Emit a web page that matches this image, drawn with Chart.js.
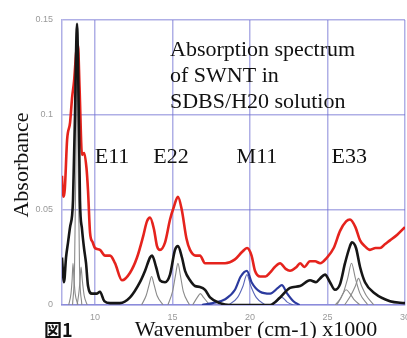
<!DOCTYPE html>
<html>
<head>
<meta charset="utf-8">
<script src="https://cdn.jsdelivr.net/npm/chart.js@4/dist/chart.umd.min.js"></script>
<style>
  html, body { margin: 0; padding: 0; background: #fff; }
  #wrap { width: 407px; height: 338px; }
</style>
</head>
<body>
<div id="wrap"><canvas id="spectrum" width="407" height="338"></canvas></div>
<script>
// measured spectrum (offset), red
const redSpectrum = [
  [7.87, 0.068], [7.94, 0.057], [8.05, 0.061], [8.2, 0.087], [8.39, 0.096], [8.52, 0.109],
  [8.65, 0.118], [8.8, 0.134], [8.9, 0.137], [9.0, 0.115], [9.16, 0.079], [9.3, 0.080],
  [9.45, 0.072], [9.55, 0.060], [9.68, 0.038], [9.85, 0.033], [10.0, 0.030], [10.32, 0.029],
  [10.65, 0.026], [10.97, 0.026], [11.29, 0.022], [11.74, 0.013], [12.26, 0.017], [12.71, 0.025],
  [13.1, 0.036], [13.35, 0.044], [13.55, 0.046], [13.8, 0.040], [14.0, 0.031], [14.19, 0.029],
  [14.52, 0.033], [14.84, 0.045], [15.1, 0.052], [15.35, 0.057], [15.6, 0.050], [15.9, 0.035],
  [16.13, 0.029], [16.5, 0.026], [16.77, 0.026], [17.1, 0.022], [17.42, 0.022], [18.0, 0.022],
  [18.39, 0.022], [19.03, 0.024], [19.5, 0.028], [19.81, 0.030], [20.1, 0.026], [20.32, 0.018],
  [20.65, 0.015], [21.0, 0.015], [21.29, 0.017], [21.6, 0.020], [21.94, 0.022], [22.3, 0.019],
  [22.58, 0.018], [23.0, 0.020], [23.23, 0.022], [23.5, 0.020], [23.87, 0.023], [24.2, 0.023],
  [24.52, 0.022], [24.97, 0.025], [25.4, 0.030], [25.81, 0.039], [26.2, 0.044], [26.45, 0.045],
  [26.8, 0.041], [27.1, 0.034], [27.4, 0.031], [27.74, 0.029], [28.1, 0.030], [28.39, 0.030],
  [28.7, 0.032], [29.03, 0.034], [29.5, 0.037], [30.0, 0.041]
]

// fitted sum, black
const fitSum = [
  [7.87, 0.025], [8.0, 0.012], [8.13, 0.025], [8.26, 0.033], [8.39, 0.041], [8.52, 0.047],
  [8.58, 0.055], [8.71, 0.100], [8.77, 0.130], [8.84, 0.148], [8.9, 0.130], [8.97, 0.090],
  [9.03, 0.055], [9.16, 0.040], [9.29, 0.030], [9.42, 0.022], [9.55, 0.010], [9.8, 0.006],
  [10.1, 0.006], [10.32, 0.007], [10.6, 0.002], [10.97, 0.001], [11.6, 0.001], [12.26, 0.004],
  [12.9, 0.012], [13.23, 0.018], [13.55, 0.025], [13.68, 0.026], [13.94, 0.020], [14.19, 0.013],
  [14.52, 0.012], [14.84, 0.016], [15.16, 0.029], [15.35, 0.031], [15.61, 0.025], [15.81, 0.018],
  [16.13, 0.013], [16.45, 0.010], [16.77, 0.0095], [17.1, 0.008], [17.42, 0.004], [18.06, 0.001],
  [18.71, 0.0], [21.29, 0.0], [21.94, 0.004], [22.58, 0.009], [23.23, 0.010], [23.87, 0.013],
  [24.26, 0.012], [24.52, 0.014], [24.84, 0.016], [25.16, 0.012], [25.48, 0.008], [25.81, 0.011],
  [26.13, 0.022], [26.45, 0.031], [26.58, 0.033], [26.84, 0.030], [27.1, 0.020], [27.42, 0.012],
  [28.06, 0.006], [29.03, 0.002], [30.0, 0.001]
]

// single peaks, gray
const peakE11a = [[8.3, 0], [8.45, 0.006], [8.52, 0.013], [8.58, 0.022], [8.65, 0.013], [8.72, 0.006], [8.9, 0]]
const peakE11b = [[8.55, 0], [8.68, 0.02], [8.76, 0.07], [8.84, 0.14], [8.92, 0.07], [9.0, 0.02], [9.15, 0]]
const peakE11c = [[8.85, 0], [8.98, 0.008], [9.05, 0.015], [9.1, 0.02], [9.18, 0.013], [9.3, 0.005], [9.5, 0]]
const peakE22a = [[13.0, 0], [13.3, 0.005], [13.5, 0.011], [13.65, 0.015], [13.8, 0.011], [14.0, 0.005], [14.4, 0]]
const peakE22b = [[14.7, 0], [15.0, 0.007], [15.2, 0.016], [15.35, 0.022], [15.5, 0.016], [15.7, 0.007], [16.1, 0]]
const peakE22c = [[16.3, 0], [16.6, 0.004], [16.8, 0.006], [17.0, 0.004], [17.4, 0]]
const peakE33a = [[25.6, 0], [26.0, 0.006], [26.3, 0.014], [26.55, 0.022], [26.8, 0.014], [27.1, 0.006], [27.6, 0]]
const peakE33b = [[26.1, 0], [26.5, 0.005], [26.8, 0.010], [27.0, 0.014], [27.2, 0.010], [27.5, 0.005], [28.0, 0]]
const peakE33c = [[25.5, 0], [25.8, 0.003], [26.0, 0.006], [26.2, 0.008], [26.45, 0.006], [26.7, 0.003], [27.1, 0]]

// metallic part, blue
const metalSum = [
  [16.9, 0], [17.6, 0.001], [18.4, 0.003], [19.03, 0.008], [19.4, 0.015], [19.8, 0.018],
  [20.1, 0.012], [20.65, 0.007], [21.3, 0.006], [21.8, 0.009], [22.05, 0.0105], [22.4, 0.006],
  [22.8, 0.002], [23.2, 0]
]
const peakM11a = [[18.6, 0], [19.2, 0.004], [19.55, 0.010], [19.8, 0.016], [20.05, 0.010], [20.4, 0.004], [21.0, 0]]
const peakM11b = [[21.3, 0], [21.7, 0.0015], [22.05, 0.004], [22.4, 0.0015], [22.8, 0]]

const xTickValues = [10, 15, 20, 25, 30]
const yTickValues = [0, 0.05, 0.1, 0.15]
const bandLabels = [['E11', 11.1], ['E22', 14.9], ['M11', 20.45], ['E33', 26.4]]

const toPts = arr => arr.map(p => ({ x: p[0], y: p[1] }))

const line = (pts, color, width, order) => ({
  data: toPts(pts),
  borderColor: color,
  borderWidth: width,
  pointRadius: 0,
  fill: false,
  cubicInterpolationMode: 'monotone',
  order: order
})

const grayPeaks = [peakE11a, peakE11b, peakE11c, peakE22a, peakE22b, peakE22c, peakE33a, peakE33b, peakE33c]

const datasets = [
  line(fitSum, '#161616', 2.6, 0),
  line(redSpectrum, '#e5231d', 2.6, 1),
  line(metalSum, '#2b3a9e', 2.2, 2),
  line(peakM11a, '#5a66b8', 1.1, 3),
  line(peakM11b, '#5a66b8', 1.1, 3),
  ...grayPeaks.map(p => line(p, '#8a8a8a', 1.1, 4))
]

const serif = '"Liberation Serif", "DejaVu Serif", serif'
const gridBlue = 'rgba(110,110,210,0.55)'

const textPlugin = {
  id: 'texts',
  afterDraw(chart) {
    const ctx = chart.ctx
    const xs = chart.scales.x
    const ys = chart.scales.y
    ctx.save()
    ctx.fillStyle = '#111'
    ctx.font = '22px ' + serif
    ctx.textBaseline = 'alphabetic'

    ctx.textAlign = 'left'
    ctx.fillText('Absorption spectrum', 170, 56)
    ctx.fillText('of SWNT in', 170, 82)
    ctx.fillText('SDBS/H20 solution', 170, 108)

    ctx.textAlign = 'center'
    bandLabels.forEach(b => {
      ctx.fillText(b[0], xs.getPixelForValue(b[1]), ys.getPixelForValue(0.0745))
    })

    ctx.fillText('Wavenumber (cm-1) x1000', 256, 336)

    ctx.save()
    ctx.translate(28, 165)
    ctx.rotate(-Math.PI / 2)
    ctx.fillText('Absorbance', 0, 0)
    ctx.restore()

    ctx.textAlign = 'left'
    ctx.font = 'bold 18px "Noto Sans CJK JP", sans-serif'
    ctx.fillText('図1', 44, 337)
    ctx.restore()
  }
}

const config = {
  type: 'line',
  data: { datasets: datasets },
  options: {
    responsive: false,
    animation: false,
    layout: { padding: { left: 22, top: 20, right: 2, bottom: 15 } },
    plugins: {
      legend: { display: false },
      tooltip: { enabled: false }
    },
    scales: {
      x: {
        type: 'linear',
        min: 7.87,
        max: 30,
        afterBuildTicks: axis => { axis.ticks = xTickValues.map(v => ({ value: v })) },
        afterFit: axis => { axis.height = 18; axis.paddingLeft = 0; axis.paddingRight = 0 },
        ticks: {
          padding: 7,
          color: '#9a9a9a',
          font: { family: '"Liberation Sans", Arial, sans-serif', size: 9 }
        },
        grid: { color: gridBlue, lineWidth: 1.5, drawTicks: false },
        border: { color: gridBlue, width: 1.5 }
      },
      y: {
        min: 0,
        max: 0.15,
        afterBuildTicks: axis => { axis.ticks = yTickValues.map(v => ({ value: v })) },
        afterFit: axis => { axis.width = 40; axis.paddingTop = 0; axis.paddingBottom = 0 },
        ticks: {
          padding: 9,
          color: '#9a9a9a',
          font: { family: '"Liberation Sans", Arial, sans-serif', size: 9 },
          callback: v => String(v)
        },
        grid: { color: gridBlue, lineWidth: 1.5, drawTicks: false },
        border: { color: gridBlue, width: 1.5 }
      }
    }
  },
  plugins: [textPlugin]
}

const spectrumChart = new Chart(document.getElementById('spectrum'), config)
</script>
</body>
</html>
